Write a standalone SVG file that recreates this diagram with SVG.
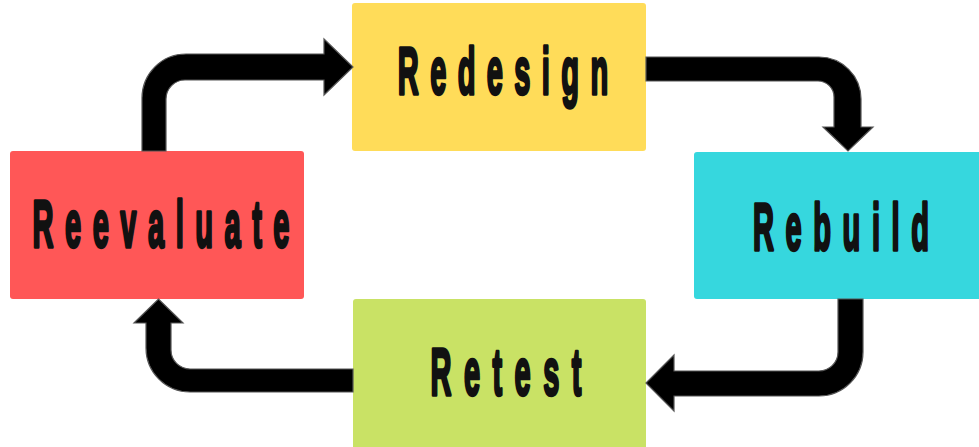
<svg xmlns="http://www.w3.org/2000/svg" width="979" height="447" viewBox="0 0 979 447">
  <style>
    .box { stroke: none; }
    .label { font-family: "Liberation Sans", Arial, sans-serif; font-weight: bold; font-size: 66px; fill: #111; stroke: #111; stroke-width: 2.6; stroke-linejoin: round; text-anchor: middle; }
    .arrow { fill: #000; stroke: #555; stroke-width: 1.2; stroke-linejoin: miter; }
  </style>
  <rect width="979" height="447" fill="#fff"/>

  <g id="redesign">
    <rect class="box" x="352" y="3" width="294" height="148" rx="3" fill="#FFDC59"/>
    <text class="label" transform="translate(503,94) scale(0.44,1)" textLength="478" lengthAdjust="spacing" vector-effect="non-scaling-stroke">Redesign</text>
  </g>

  <g id="reevaluate">
    <rect class="box" x="10" y="151" width="294" height="148" rx="3" fill="#FF5757"/>
    <text class="label" transform="translate(161,247) scale(0.44,1)" textLength="584" lengthAdjust="spacing" vector-effect="non-scaling-stroke">Reevaluate</text>
  </g>

  <g id="rebuild">
    <rect class="box" x="694" y="152" width="292" height="147" rx="3" fill="#36D7DE"/>
    <text class="label" transform="translate(841,250) scale(0.44,1)" textLength="400" lengthAdjust="spacing" vector-effect="non-scaling-stroke">Rebuild</text>
  </g>

  <g id="retest">
    <rect class="box" x="353" y="299" width="293" height="150" rx="3" fill="#C9E265"/>
    <text class="label" transform="translate(506,395) scale(0.44,1)" textLength="343" lengthAdjust="spacing" vector-effect="non-scaling-stroke">Retest</text>
  </g>

  <g id="connectors">
    <!-- Reevaluate to Redesign -->
    <path class="arrow" d="M142,151 V98 A44,44 0 0 1 186,54 H324 V39 L353,67 L324,95 V80 H185 A19,19 0 0 0 166,99 V151 Z"/>
    <!-- Redesign to Rebuild -->
    <path class="arrow" d="M646,57 H819 A42,42 0 0 1 861,99 V127 H873 L848,151 L823,127 H834 V97 A16,16 0 0 0 818,81 H646 Z"/>
    <!-- Rebuild to Retest -->
    <path class="arrow" d="M838,299 H863 V352 A44,44 0 0 1 819,396 H674 V411 L646,383 L674,355 V371 H819 A19,19 0 0 0 838,352 Z"/>
    <!-- Retest to Reevaluate -->
    <path class="arrow" d="M353,369 H190 A19,19 0 0 1 171,350 V323 H183 L158.5,299 L134,323 H146 V348 A44,44 0 0 0 190,392 H353 Z"/>
  </g>
</svg>
